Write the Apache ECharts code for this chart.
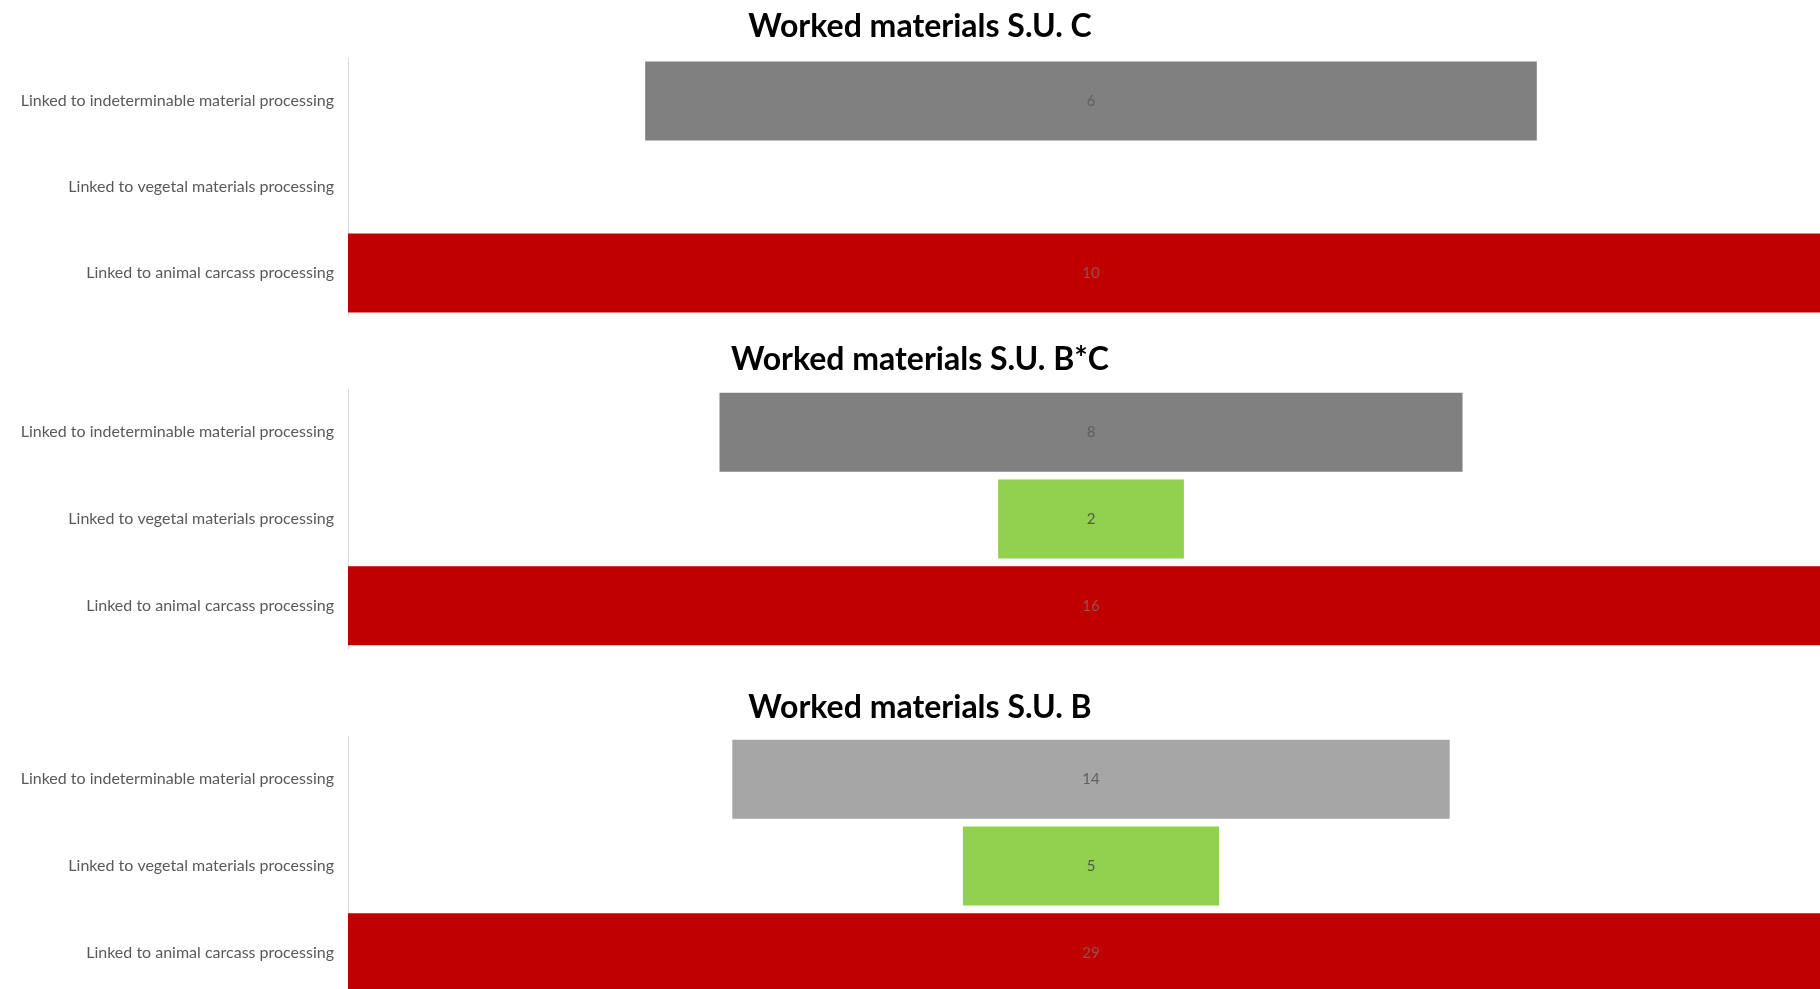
<!DOCTYPE html>
<html>
<head>
<meta charset="utf-8">
<title>Worked materials by S.U.</title>
<script src="https://cdn.jsdelivr.net/npm/echarts@6/dist/echarts.min.js"></script>
<style>
  html, body { margin: 0; padding: 0; background: #ffffff; }
  #chart { width: 1820px; height: 989px; }
</style>
</head>
<body>
<div id="chart"></div>
<script>
// Categories, top to bottom in every panel
const categories = [
  'Linked to indeterminable material processing',
  'Linked to vegetal materials processing',
  'Linked to animal carcass processing'
];

// Panel titles
const panelTitles = [
  'Worked materials S.U. C',
  'Worked materials S.U. B*C',
  'Worked materials S.U. B'
];

// Counts per category for each stratigraphic unit
const valuesSUC = [6, 0, 10];
const valuesSUBC = [8, 2, 16];
const valuesSUB = [14, 5, 29];

const panelValues = [valuesSUC, valuesSUBC, valuesSUB];

// Layout of the three panels (pixels)
const panelLayout = [
  { top: 58, height: 258, titleY: 27 },
  { top: 389, height: 260, titleY: 360 },
  { top: 736, height: 260, titleY: 708 }
];
const plotLeft = 348;
const plotWidth = 1486;
const titleX = 920;

// Bar colours per panel (indeterminable, vegetal, animal)
const panelColors = [
  ['#808080', '#92d050', '#c00000'],
  ['#808080', '#92d050', '#c00000'],
  ['#a6a6a6', '#92d050', '#c00000']
];
const labelColors = ['#5f5f5f', '#4d5e40', '#9a4d4d'];

const FONT = 'Lato, "Open Sans", "Liberation Sans", sans-serif';

const grids = [], xAxes = [], yAxes = [], series = [], graphics = [];

panelValues.forEach((vals, i) => {
  const maxVal = Math.max(...vals);
  const lay = panelLayout[i];

  // The widest bar runs past the right edge of the page, so the grid is
  // allowed to extend outside the container.
  grids.push({
    left: plotLeft, top: lay.top, width: plotWidth, height: lay.height,
    outerBoundsMode: 'none'
  });

  xAxes.push({
    type: 'value', gridIndex: i, min: 0, max: maxVal, show: false,
    splitLine: { show: false }
  });

  yAxes.push({
    type: 'category', gridIndex: i, data: categories, inverse: true,
    axisTick: { show: false },
    axisLine: { show: true, lineStyle: { color: '#d9d9d9', width: 1 } },
    axisLabel: { color: '#595959', fontSize: 16, fontFamily: FONT, margin: 14 },
    splitLine: { show: false }
  });

  // Transparent spacer that centres each bar on the panel's middle
  series.push({
    type: 'bar', xAxisIndex: i, yAxisIndex: i, stack: 'p' + i,
    data: vals.map(v => (maxVal - v) / 2),
    itemStyle: { color: 'transparent' },
    barWidth: 79, silent: true,
    emphasis: { disabled: true }
  });

  series.push({
    type: 'bar', xAxisIndex: i, yAxisIndex: i, stack: 'p' + i,
    barWidth: 79,
    data: vals.map((v, k) => ({
      value: v,
      itemStyle: { color: panelColors[i][k] },
      label: { color: labelColors[k] }
    })),
    label: {
      show: true, position: 'inside', fontSize: 15, fontFamily: FONT,
      formatter: p => (p.value ? String(p.value) : '')
    },
    emphasis: { disabled: true }
  });

  graphics.push({
    type: 'text', x: titleX, y: lay.titleY,
    style: {
      text: panelTitles[i], fill: '#000000',
      font: 'bold 32px ' + FONT,
      textAlign: 'center', textVerticalAlign: 'middle'
    }
  });
});

const chart = echarts.init(document.getElementById('chart'), null, { renderer: 'canvas' });
chart.setOption({
  animation: false,
  backgroundColor: '#ffffff',
  grid: grids,
  xAxis: xAxes,
  yAxis: yAxes,
  series: series,
  graphic: graphics
});
</script>
</body>
</html>
